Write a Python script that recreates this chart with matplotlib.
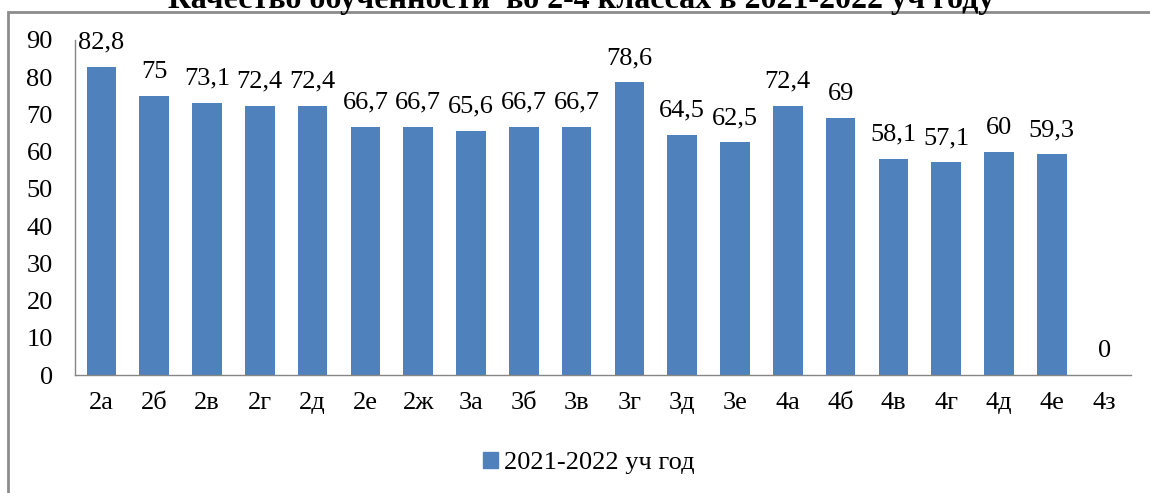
import matplotlib
matplotlib.use("Agg")
import matplotlib.pyplot as plt
from matplotlib.patches import Rectangle, Patch

categories = ["2а", "2б", "2в", "2г", "2д", "2е", "2ж", "3а", "3б", "3в",
              "3г", "3д", "3е", "4а", "4б", "4в", "4г", "4д", "4е", "4з"]
values = [82.8, 75, 73.1, 72.4, 72.4, 66.7, 66.7, 65.6, 66.7, 66.7,
          78.6, 64.5, 62.5, 72.4, 69, 58.1, 57.1, 60, 59.3, 0]
yticks = [0, 10, 20, 30, 40, 50, 60, 70, 80, 90]
series_name = "2021-2022 уч год"
title = "Качество обученности  во 2-4 классах в 2021-2022 уч году"

plt.rcParams['font.family'] = ['Liberation Serif', 'DejaVu Serif']

W, H = 1150, 493
fs = 19
fig = plt.figure(figsize=(W / 100, H / 100), dpi=100)
ax = fig.add_axes([75 / W, 1 - 375 / H, 1056 / W, 335 / H])

color = "#4F81BD"
x = list(range(len(categories)))
ax.bar(x, values, width=0.56, color=color)
ax.set_xlim(-0.5, len(categories) - 0.5)
ax.set_ylim(0, 90)
ax.set_yticks(yticks)
ax.set_yticklabels([str(t) for t in yticks], fontsize=fs)
ax.set_xticks(x)
ax.set_xticklabels(categories, fontsize=fs)
ax.tick_params(axis='both', length=0)
ax.tick_params(axis='x', pad=12)
ax.tick_params(axis='y', pad=16)
for s in ["top", "right"]:
    ax.spines[s].set_visible(False)
for s in ["left", "bottom"]:
    ax.spines[s].set_color("#868686")
    ax.spines[s].set_linewidth(1.0)

for xi, v in zip(x, values):
    lbl = (f"{v:g}").replace(".", ",")
    ax.annotate(lbl, (xi, v), xytext=(0, 13), textcoords="offset points",
                ha="center", va="baseline", fontsize=fs)

fig.legend(handles=[Patch(color=color, label=series_name)],
           loc="center", bbox_to_anchor=(589 / W, 1 - 463 / H),
           frameon=False, fontsize=fs, handlelength=0.55, handleheight=0.55,
           handletextpad=0.25)

fig.text(581 / W, 1 - 8 / H, title, ha="center", va="baseline",
         fontsize=23, fontweight="bold")

fig.patches.append(Rectangle((8 / W, -0.1), 1.2, 1 - 12 / H + 0.1,
                             transform=fig.transFigure, fill=False,
                             edgecolor="#8c8c8c", linewidth=2))

fig.savefig("out.png", dpi=100)
